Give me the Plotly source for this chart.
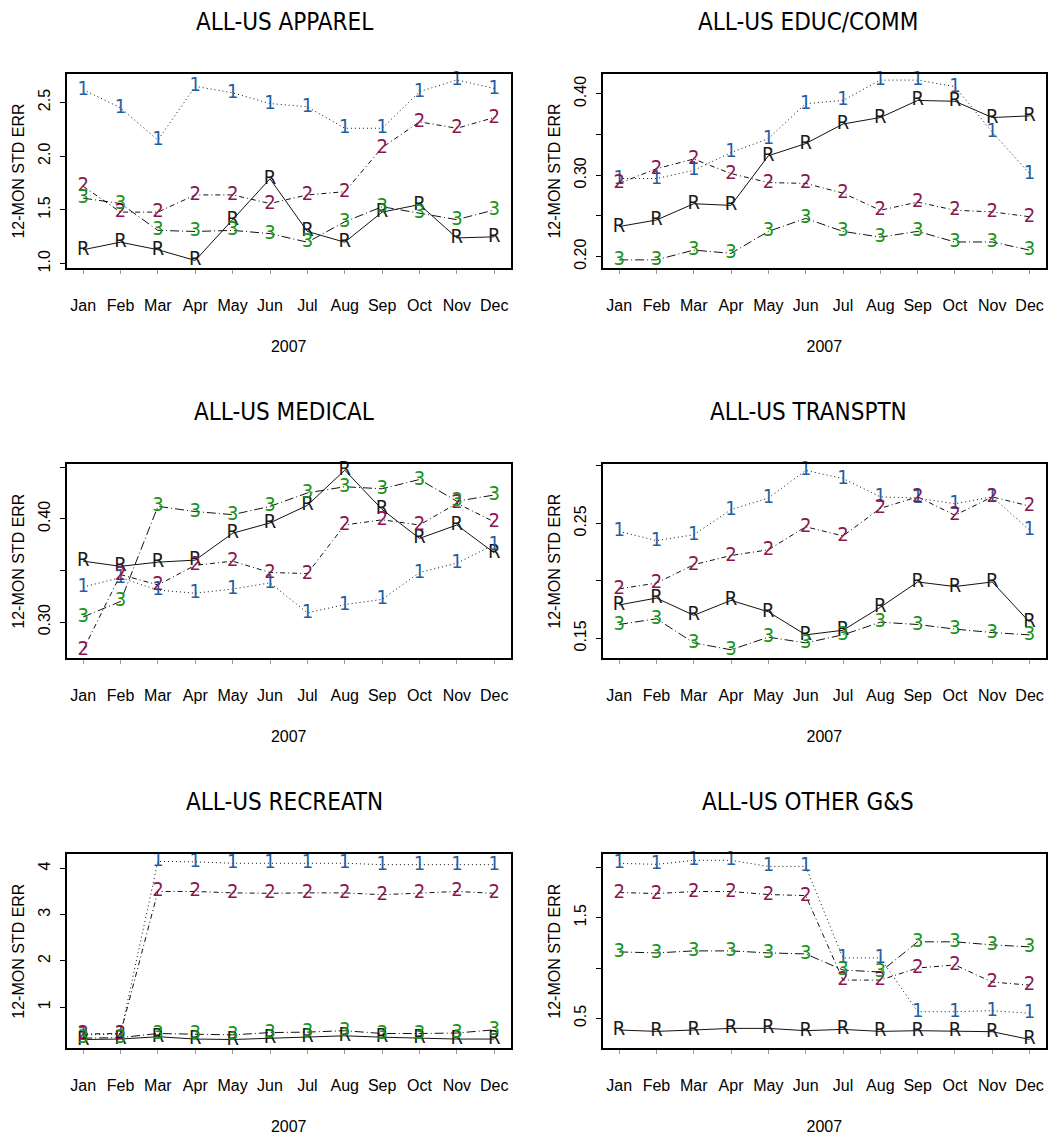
import plotly.graph_objects as go

months = ["Jan", "Feb", "Mar", "Apr", "May", "Jun", "Jul", "Aug", "Sep", "Oct", "Nov", "Dec"]
year_label = "2007"
y_title = "12-MON STD ERR"
series_labels = ["R", "1", "2", "3"]

titles = ["ALL-US APPAREL", "ALL-US EDUC/COMM", "ALL-US MEDICAL",
          "ALL-US TRANSPTN", "ALL-US RECREATN", "ALL-US OTHER G&S"]

# ---- ALL-US APPAREL
apparel_R = [1.13, 1.20, 1.13, 1.03, 1.41, 1.79, 1.30, 1.20, 1.48, 1.55, 1.24, 1.25]
apparel_1 = [2.62, 2.45, 2.15, 2.65, 2.59, 2.49, 2.46, 2.26, 2.26, 2.60, 2.71, 2.63]
apparel_2 = [1.72, 1.48, 1.48, 1.64, 1.64, 1.56, 1.64, 1.67, 2.08, 2.32, 2.26, 2.36]
apparel_3 = [1.61, 1.56, 1.31, 1.30, 1.31, 1.28, 1.20, 1.39, 1.53, 1.47, 1.41, 1.50]

# ---- ALL-US EDUC/COMM
educ_R = [0.237, 0.245, 0.265, 0.263, 0.324, 0.339, 0.363, 0.371, 0.392, 0.391, 0.371, 0.373]
educ_1 = [0.296, 0.296, 0.306, 0.328, 0.345, 0.388, 0.392, 0.417, 0.417, 0.409, 0.353, 0.302]
educ_2 = [0.290, 0.308, 0.320, 0.302, 0.291, 0.290, 0.278, 0.257, 0.267, 0.257, 0.255, 0.249]
educ_3 = [0.196, 0.196, 0.208, 0.204, 0.231, 0.247, 0.231, 0.224, 0.231, 0.218, 0.218, 0.208]

# ---- ALL-US MEDICAL
med_R = [0.359, 0.354, 0.358, 0.360, 0.386, 0.396, 0.413, 0.447, 0.409, 0.381, 0.394, 0.367]
med_1 = [0.334, 0.343, 0.331, 0.328, 0.332, 0.338, 0.309, 0.317, 0.322, 0.348, 0.357, 0.375]
med_2 = [0.273, 0.346, 0.336, 0.355, 0.359, 0.348, 0.347, 0.394, 0.399, 0.394, 0.415, 0.397]
med_3 = [0.305, 0.320, 0.412, 0.407, 0.404, 0.412, 0.425, 0.431, 0.429, 0.438, 0.417, 0.423]

# ---- ALL-US TRANSPTN
trans_R = [0.179, 0.185, 0.170, 0.183, 0.173, 0.153, 0.157, 0.177, 0.199, 0.195, 0.199, 0.164]
trans_1 = [0.243, 0.235, 0.240, 0.262, 0.272, 0.296, 0.289, 0.273, 0.272, 0.267, 0.273, 0.244]
trans_2 = [0.193, 0.198, 0.214, 0.222, 0.227, 0.247, 0.239, 0.263, 0.273, 0.257, 0.273, 0.265]
trans_3 = [0.162, 0.167, 0.146, 0.140, 0.151, 0.146, 0.153, 0.164, 0.162, 0.158, 0.155, 0.153]

# ---- ALL-US RECREATN
rec_R = [0.30, 0.31, 0.36, 0.31, 0.30, 0.33, 0.36, 0.38, 0.35, 0.33, 0.31, 0.31]
rec_1 = [0.40, 0.42, 4.15, 4.14, 4.11, 4.11, 4.11, 4.11, 4.08, 4.08, 4.08, 4.08]
rec_2 = [0.42, 0.43, 3.50, 3.50, 3.47, 3.46, 3.47, 3.47, 3.43, 3.47, 3.50, 3.46]
rec_3 = [0.33, 0.34, 0.43, 0.41, 0.40, 0.45, 0.46, 0.49, 0.43, 0.43, 0.44, 0.51]

# ---- ALL-US OTHER G&S
oth_R = [0.384, 0.370, 0.384, 0.400, 0.400, 0.377, 0.390, 0.370, 0.377, 0.370, 0.367, 0.290]
oth_1 = [2.04, 2.03, 2.07, 2.07, 2.01, 2.01, 1.10, 1.10, 0.566, 0.566, 0.576, 0.550]
oth_2 = [1.75, 1.74, 1.76, 1.76, 1.73, 1.72, 0.88, 0.88, 1.00, 1.03, 0.86, 0.83]
oth_3 = [1.16, 1.15, 1.17, 1.17, 1.15, 1.14, 0.98, 0.96, 1.26, 1.26, 1.23, 1.21]

panels = [
    (apparel_R, apparel_1, apparel_2, apparel_3),
    (educ_R, educ_1, educ_2, educ_3),
    (med_R, med_1, med_2, med_3),
    (trans_R, trans_1, trans_2, trans_3),
    (rec_R, rec_1, rec_2, rec_3),
    (oth_R, oth_1, oth_2, oth_3),
]

y_ranges = [[0.96, 2.765], [0.186, 0.4245], [0.265, 0.453],
            [0.1326, 0.3016], [0.11, 4.31], [0.202, 2.133]]
y_tickvals = [[1.0, 1.5, 2.0, 2.5], [0.20, 0.25, 0.30, 0.35, 0.40],
              [0.30, 0.35, 0.40, 0.45], [0.15, 0.20, 0.25, 0.30],
              [1, 2, 3, 4], [0.5, 1.0, 1.5, 2.0]]
y_ticktext = [["1.0", "1.5", "2.0", "2.5"], ["0.20", "", "0.30", "", "0.40"],
              ["0.30", "", "0.40", ""], ["0.15", "", "0.25", ""],
              ["1", "2", "3", "4"], ["0.5", "", "1.5", ""]]

W, H = 1051, 1138
col_x = [(66.7, 510.7), (602.7, 1046.0)]
row_y = [(74.0, 268.0), (464.0, 658.3), (854.0, 1048.3)]
title_x = [284, 808]
title_y = [22, 412, 802]

colors = {"R": "#1a1a1a", "1": "#1f5fa6", "2": "#8c1550", "3": "#169416"}
dashes = {"R": "solid", "1": "1px,3px", "2": "5px,3px,1px,3px", "3": "9px,3px,1px,3px"}

FONT = "Liberation Sans Narrow, DejaVu Sans Condensed, Arial Narrow, Liberation Sans, Arial, sans-serif"
TICKFONT = "Liberation Sans, Arial, sans-serif"

fig = go.Figure()
layout = {}
annotations = []
x = list(range(1, 13))

for i, series in enumerate(panels):
    r, c = divmod(i, 2)
    n = i + 1
    xa = "x" if n == 1 else f"x{n}"
    ya = "y" if n == 1 else f"y{n}"
    for lab, vals in zip(series_labels, series):
        fig.add_trace(go.Scatter(
            x=x, y=vals, xaxis=xa, yaxis=ya, mode="lines+text",
            text=[lab] * len(vals), textposition="middle center",
            textfont=dict(family=FONT, size=20, color=colors[lab]),
            line=dict(color="#111111", width=1.0, dash=dashes[lab]),
            showlegend=False, hoverinfo="skip", cliponaxis=False,
        ))
    x0, x1 = col_x[c]
    y0, y1 = row_y[r]
    layout[f"xaxis{n}"] = dict(
        domain=[x0 / W, x1 / W], anchor=ya, range=[0.56, 12.44],
        tickvals=x, ticktext=months, ticks="outside", ticklen=4, tickcolor="#999999",
        showline=True, mirror=True, linecolor="black", linewidth=1.5,
        showgrid=False, zeroline=False, automargin=False,
        tickfont=dict(family=TICKFONT, size=16, color="black"),
        ticklabelstandoff=18,
        title=dict(text=year_label, font=dict(family=TICKFONT, size=16, color="black"), standoff=28),
    )
    layout[f"yaxis{n}"] = dict(
        domain=[1 - y1 / H, 1 - y0 / H], anchor=xa, range=y_ranges[i],
        tickvals=y_tickvals[i], ticktext=y_ticktext[i], tickangle=-90,
        ticks="outside", ticklen=5, tickcolor="black",
        showline=True, mirror=True, linecolor="black", linewidth=1.5,
        showgrid=False, zeroline=False, automargin=False,
        tickfont=dict(family=TICKFONT, size=16, color="black"),
        ticklabelstandoff=4,
        title=dict(text=y_title, font=dict(family=TICKFONT, size=16, color="black"), standoff=7),
    )
    annotations.append(dict(
        text=titles[i], x=title_x[c] / W, y=1 - title_y[r] / H, xref="paper", yref="paper",
        xanchor="center", yanchor="middle", showarrow=False,
        font=dict(family=FONT, size=24, color="black"),
    ))

fig.update_layout(
    width=W, height=H, margin=dict(l=0, r=0, t=0, b=0),
    paper_bgcolor="white", plot_bgcolor="white",
    annotations=annotations, **layout,
)
fig.write_html("out.html", config={"displayModeBar": False},
               post_script="document.body.style.margin='0px';")
